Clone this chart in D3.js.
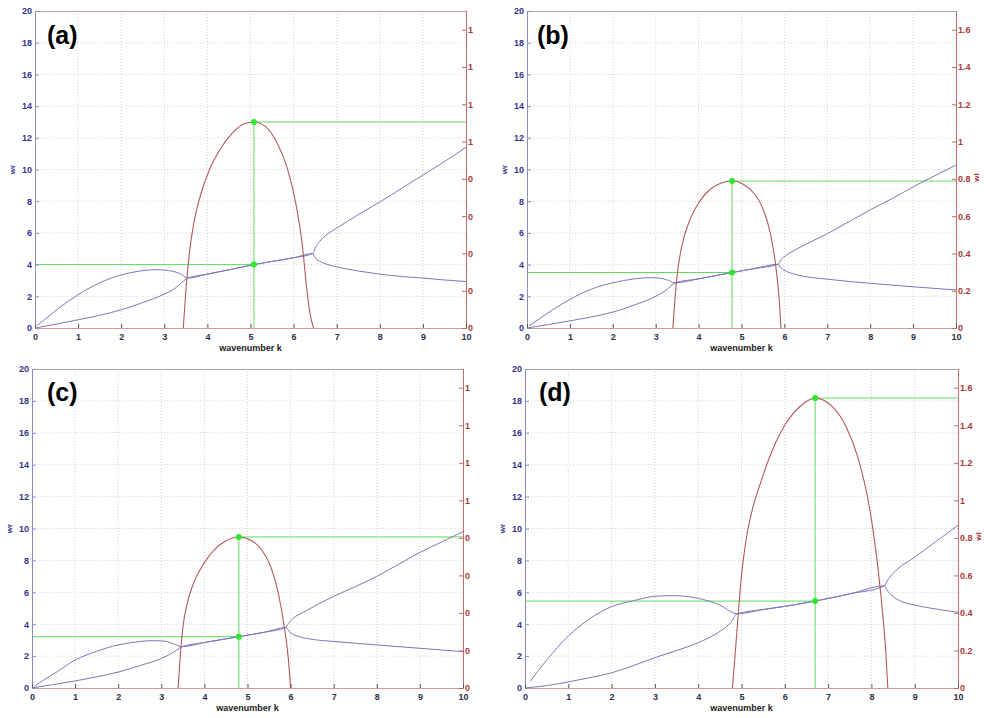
<!DOCTYPE html>
<html><head><meta charset="utf-8">
<script src="https://cdn.jsdelivr.net/npm/d3@7"></script>
<style>body{margin:0;background:#fff}svg{display:block}</style>
</head><body>
<svg id="c" width="984" height="718"></svg>
<script>
// ---------- data (k, value) ----------
const xTicks = [0,1,2,3,4,5,6,7,8,9,10];
const wrTicks = [0,2,4,6,8,10,12,14,16,18,20];
const wiTicks = [0,0.2,0.4,0.6,0.8,1,1.2,1.4,1.6];
const panelNames = ["(a)","(b)","(c)","(d)"];

// panel (a)
const aMode1 = [[0.05,0.15],[0.3,0.7],[0.6,1.35],[1,2.1],[1.5,2.85],[2,3.35],[2.4,3.58],[2.8,3.68],[3.1,3.62],[3.35,3.45],[3.55,3.15],[4,3.4],[4.5,3.67],[5.08,4.0],[5.5,4.2],[6,4.43],[6.45,4.7],[6.5,5.05],[6.6,5.45],[6.8,5.95],[7,6.3],[7.5,7.15],[8,7.95],[8.5,8.8],[9,9.65],[9.5,10.5],[10,11.4]];
const aMode2 = [[0,0],[0.5,0.25],[1,0.52],[1.5,0.8],[2,1.15],[2.5,1.6],[3,2.14],[3.25,2.5],[3.4,2.85],[3.55,3.15],[4,3.4],[4.5,3.67],[5.08,4.0],[5.5,4.2],[6,4.43],[6.45,4.7],[6.5,4.42],[6.6,4.22],[6.8,4.0],[7,3.85],[7.5,3.6],[8,3.4],[8.5,3.25],[9,3.15],[9.5,3.03],[10,2.93]];
const aGrowth = [[3.44,0],[3.5,0.2],[3.58,0.4],[3.7,0.58],[3.85,0.72],[4.05,0.85],[4.3,0.96],[4.6,1.05],[4.85,1.095],[5.08,1.105],[5.35,1.08],[5.6,1.0],[5.85,0.86],[6.05,0.67],[6.2,0.45],[6.31,0.2],[6.38,0.08],[6.46,0]];
const aPeak = [5.08, 1.105, 4.0];   // k, wi max, wr at that k

// panel (b)
const bMode1 = [[0.05,0.15],[0.3,0.6],[0.6,1.15],[1,1.8],[1.5,2.45],[2,2.85],[2.5,3.1],[2.9,3.18],[3.15,3.12],[3.3,3.0],[3.45,2.85],[4,3.1],[4.78,3.5],[5.3,3.75],[5.85,4.02],[5.92,4.3],[6.05,4.6],[6.3,5.0],[7,5.95],[7.5,6.7],[8,7.45],[8.5,8.15],[9,8.9],[9.5,9.6],[10,10.28]];
const bMode2 = [[0,0],[0.5,0.22],[1,0.45],[1.5,0.7],[2,1.0],[2.5,1.45],[3,2.0],[3.25,2.4],[3.45,2.85],[4,3.1],[4.78,3.5],[5.3,3.75],[5.85,4.02],[5.92,3.78],[6.05,3.57],[6.3,3.35],[7,3.08],[8,2.82],[9,2.6],[10,2.4]];
const bGrowth = [[3.40,0],[3.45,0.16],[3.52,0.32],[3.62,0.45],[3.78,0.57],[4.0,0.67],[4.25,0.74],[4.5,0.775],[4.78,0.788],[5.05,0.77],[5.3,0.72],[5.5,0.64],[5.68,0.5],[5.8,0.33],[5.88,0.15],[5.92,0]];
const bPeak = [4.78, 0.788, 3.5];

// panel (c)
const cMode1 = [[0.05,0.1],[0.3,0.55],[0.6,1.05],[1,1.75],[1.5,2.3],[2,2.7],[2.4,2.88],[2.8,2.97],[3.1,2.93],[3.3,2.75],[3.48,2.59],[4,2.85],[4.8,3.22],[5.4,3.5],[5.89,3.79],[5.95,4.05],[6.05,4.35],[6.3,4.75],[7,5.75],[7.5,6.35],[8,7.0],[8.5,7.75],[9,8.5],[9.5,9.15],[10,9.8]];
const cMode2 = [[0,0],[0.5,0.22],[1,0.44],[1.5,0.7],[2,1.0],[2.5,1.4],[3,1.85],[3.3,2.27],[3.48,2.59],[4,2.85],[4.8,3.22],[5.4,3.5],[5.89,3.79],[6.0,3.45],[6.2,3.22],[6.5,3.05],[7,2.92],[8,2.7],[9,2.49],[10,2.28]];
const cGrowth = [[3.39,0],[3.44,0.17],[3.5,0.32],[3.6,0.45],[3.75,0.56],[3.95,0.65],[4.2,0.73],[4.5,0.785],[4.8,0.805],[5.1,0.785],[5.35,0.73],[5.55,0.64],[5.72,0.5],[5.85,0.33],[5.95,0.15],[6.0,0]];
const cPeak = [4.8, 0.805, 3.22];

// panel (d)
const dMode1 = [[0.12,0.42],[0.5,1.75],[1,3.26],[1.5,4.35],[2,5.1],[2.5,5.47],[3,5.75],[3.4,5.79],[4,5.62],[4.5,5.2],[4.9,4.65],[5.5,4.92],[6,5.12],[6.7,5.45],[7.5,5.9],[8.3,6.4],[8.37,6.75],[8.47,7.1],[8.6,7.45],[9,8.2],[9.5,9.2],[10,10.2]];
const dMode2 = [[0,0],[0.5,0.15],[1,0.38],[1.5,0.65],[2,0.95],[2.5,1.4],[3,1.9],[3.5,2.35],[4,2.84],[4.5,3.55],[4.75,4.1],[4.9,4.65],[5.5,4.92],[6,5.12],[6.7,5.45],[7.5,5.9],[8.3,6.4],[8.37,6.1],[8.47,5.8],[8.6,5.55],[9,5.2],[9.5,4.95],[10,4.75]];
const dGrowth = [[4.79,0],[4.85,0.17],[4.92,0.38],[5.0,0.6],[5.1,0.78],[5.25,0.95],[5.45,1.1],[5.7,1.26],[6.0,1.4],[6.35,1.5],[6.7,1.545],[7.05,1.51],[7.4,1.4],[7.7,1.22],[7.95,0.97],[8.12,0.7],[8.25,0.42],[8.33,0.2],[8.38,0]];
const dPeak = [6.7, 1.545, 5.45];

const panelData = [
  {m1:aMode1, m2:aMode2, g:aGrowth, p:aPeak},
  {m1:bMode1, m2:bMode2, g:bGrowth, p:bPeak},
  {m1:cMode1, m2:cMode2, g:cGrowth, p:cPeak},
  {m1:dMode1, m2:dMode2, g:dGrowth, p:dPeak}
];

// ---------- layout ----------
const layout = [
  {l:35, r:466, t:11, b:328, clipR:473, topCol:"#d49a9a", lx:47, ly:44},
  {l:527, r:956, t:11, b:328, clipR:984, topCol:"#a8a8a8", lx:537, ly:44},
  {l:32, r:463, t:369, b:688, clipR:470, topCol:"#a8a8a8", lx:47, ly:401},
  {l:525, r:958, t:369, b:688, clipR:984, topCol:"#a8a8a8", lx:539, ly:401}
];

const BLUE = "#7a78b8", RED = "#b25a5a", GREEN = "#5fdc5f";
const svg = d3.select("#c");
const defs = svg.append("defs");

layout.forEach((L, i) => {
  const D = panelData[i];
  const x = d3.scaleLinear().domain([0,10]).range([L.l, L.r]);
  const yL = d3.scaleLinear().domain([0,20]).range([L.b, L.t]);
  const yR = d3.scaleLinear().domain([0,1.7]).range([L.b, L.t]);

  defs.append("clipPath").attr("id","pc"+i).append("rect")
    .attr("x",0).attr("y",L.t-14).attr("width",L.clipR).attr("height",L.b-L.t+60);
  defs.append("clipPath").attr("id","pa"+i).append("rect")
    .attr("x",L.l).attr("y",L.t).attr("width",L.r-L.l).attr("height",L.b-L.t);

  const g = svg.append("g").attr("clip-path","url(#pc"+i+")");

  // grid
  const grid = g.append("g").attr("stroke","#c8c8c8").attr("stroke-width",0.8).attr("stroke-dasharray","1,2");
  xTicks.slice(1,-1).forEach(k => grid.append("line").attr("x1",x(k)).attr("x2",x(k)).attr("y1",L.t).attr("y2",L.b));
  wrTicks.slice(1,-1).forEach(v => grid.append("line").attr("x1",L.l).attr("x2",L.r).attr("y1",yL(v)).attr("y2",yL(v)));

  const plot = g.append("g").attr("clip-path","url(#pa"+i+")");
  const lineL = d3.line().x(d=>x(d[0])).y(d=>yL(d[1])).curve(d3.curveMonotoneX);
  const lineR = d3.line().x(d=>x(d[0])).y(d=>yR(d[1])).curve(d3.curveMonotoneX);

  // green guide lines
  const pk = D.p;
  plot.append("line").attr("x1",x(pk[0])).attr("x2",x(pk[0])).attr("y1",yL(0)).attr("y2",yR(pk[1])).attr("stroke",GREEN).attr("stroke-width",1);
  plot.append("line").attr("x1",x(pk[0])).attr("x2",L.r).attr("y1",yR(pk[1])).attr("y2",yR(pk[1])).attr("stroke",GREEN).attr("stroke-width",1);
  plot.append("line").attr("x1",L.l).attr("x2",x(pk[0])).attr("y1",yL(pk[2])).attr("y2",yL(pk[2])).attr("stroke",GREEN).attr("stroke-width",1);

  plot.append("path").attr("d",lineL(D.m1)).attr("fill","none").attr("stroke",BLUE).attr("stroke-width",1);
  plot.append("path").attr("d",lineL(D.m2)).attr("fill","none").attr("stroke",BLUE).attr("stroke-width",1);
  plot.append("path").attr("d",lineR(D.g)).attr("fill","none").attr("stroke",RED).attr("stroke-width",1.1);

  g.append("circle").attr("cx",x(pk[0])).attr("cy",yR(pk[1])).attr("r",3).attr("fill","#2ee82e");
  g.append("circle").attr("cx",x(pk[0])).attr("cy",yL(pk[2])).attr("r",3).attr("fill","#2ee82e");

  // frame
  g.append("line").attr("x1",L.l).attr("x2",L.r).attr("y1",L.t+0.5).attr("y2",L.t+0.5).attr("stroke",L.topCol);
  g.append("line").attr("x1",L.l).attr("x2",L.r).attr("y1",L.b+0.5).attr("y2",L.b+0.5).attr("stroke","#d49a9a");
  g.append("line").attr("x1",L.l+0.5).attr("x2",L.l+0.5).attr("y1",L.t).attr("y2",L.b).attr("stroke","#8c8cc4");
  g.append("line").attr("x1",L.r+0.5).attr("x2",L.r+0.5).attr("y1",L.t).attr("y2",L.b+1).attr("stroke","#c46a6a");

  // left axis
  const axL = g.append("g").attr("transform",`translate(${L.l},0)`)
    .call(d3.axisLeft(yL).tickValues(wrTicks).tickSize(-4).tickPadding(3));
  axL.select(".domain").remove();
  axL.selectAll("line").attr("stroke","#8c8cc4");
  axL.selectAll("text").attr("fill","#34348a").style("font","600 9px 'Liberation Sans', Arial, sans-serif");

  // right axis
  const axR = g.append("g").attr("transform",`translate(${L.r},0)`)
    .call(d3.axisRight(yR).tickValues(wiTicks).tickFormat(d=>d3.format("~g")(d)).tickSize(-4).tickPadding(2));
  axR.select(".domain").remove();
  axR.selectAll("line").attr("stroke","#c46a6a");
  axR.selectAll("text").attr("fill","#a83a3a").style("font","600 9px 'Liberation Sans', Arial, sans-serif");

  // bottom axis
  const axB = g.append("g").attr("transform",`translate(0,${L.b})`)
    .call(d3.axisBottom(x).tickValues(xTicks).tickSize(-4).tickPadding(6));
  axB.select(".domain").remove();
  axB.selectAll("line").attr("stroke","#555");
  axB.selectAll("text").attr("fill","#303048").style("font","600 9px 'Liberation Sans', Arial, sans-serif");

  // axis titles
  g.append("text").attr("x",(L.l+L.r)/2).attr("y",L.b+23).attr("text-anchor","middle")
    .attr("fill","#222").style("font","bold 9px 'Liberation Sans', Arial, sans-serif").text("wavenumber k");
  g.append("text").attr("transform",`translate(${L.l-20},${(L.t+L.b)/2}) rotate(-90)`).attr("text-anchor","middle")
    .attr("fill","#3a3a96").style("font","600 8px 'Liberation Sans', Arial, sans-serif").text("wr");
  g.append("text").attr("transform",`translate(${L.r+23},${(L.t+L.b)/2+8}) rotate(-90)`).attr("text-anchor","middle")
    .attr("fill","#a83a3a").style("font","600 8px 'Liberation Sans', Arial, sans-serif").text("wi");

  // panel label
  svg.append("text").attr("x",L.lx).attr("y",L.ly).attr("fill","#000")
    .style("font","bold 25px 'Liberation Sans', Arial, sans-serif").text(panelNames[i]);
});
</script>
</body></html>
